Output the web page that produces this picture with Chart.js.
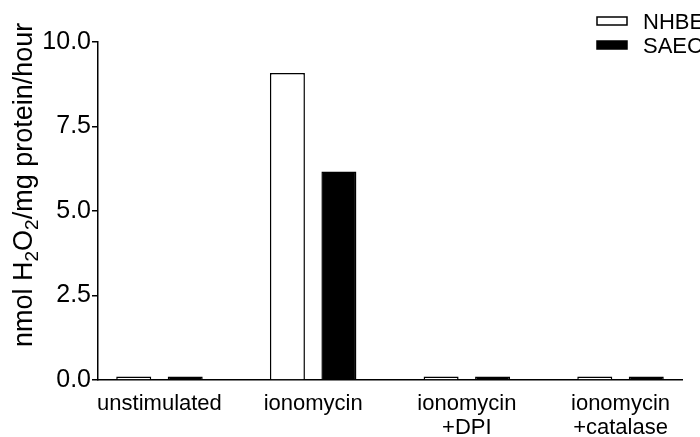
<!DOCTYPE html>
<html>
<head>
<meta charset="utf-8">
<script src="https://cdn.jsdelivr.net/npm/chart.js@4/dist/chart.umd.min.js"></script>
<style>
  body { margin: 0; background: #fff; }
  #wrap { width: 700px; height: 437px; position: relative; }
</style>
</head>
<body>
<div id="wrap"><canvas id="chartCanvas"></canvas></div>
<script>
// DATA
const categories = ['unstimulated', 'ionomycin', ['ionomycin', '+DPI'], ['ionomycin', '+catalase']];
const nhbeValues = [0.1, 9.08, 0.1, 0.1];
const saecValues = [0.1, 6.17, 0.1, 0.1];
const yTickValues = [0, 2.5, 5, 7.5, 10];
const seriesNames = ['NHBE', 'SAEC'];

const FONT = "'Liberation Sans', Arial, sans-serif";

// y title with real subscripts, and a stacked legend in the top right corner
const extras = {
  id: 'extras',
  afterDraw(chart) {
    const ctx = chart.ctx;
    ctx.save();
    ctx.fillStyle = '#000';
    ctx.strokeStyle = '#000';

    // legend
    chart.data.datasets.forEach((ds, i) => {
      const cy = 21 + i * 24;
      ctx.fillStyle = ds.backgroundColor;
      ctx.fillRect(597, cy - 4, 30, 8);
      ctx.lineWidth = 1.5;
      ctx.strokeRect(597, cy - 4, 30, 8);
      ctx.fillStyle = '#000';
      ctx.font = '22px ' + FONT;
      ctx.textBaseline = 'middle';
      ctx.fillText(ds.label, 643, cy + 2);
    });

    // y axis title
    const parts = [['nmol H', 0], ['2', 1], ['O', 0], ['2', 1], ['/mg protein/hour', 0]];
    ctx.translate(32, 347);
    ctx.rotate(-Math.PI / 2);
    ctx.textBaseline = 'alphabetic';
    let x = 0;
    parts.forEach(([t, sub]) => {
      ctx.font = (sub ? '19px ' : '27px ') + FONT;
      ctx.fillText(t, x, sub ? 6 : 0);
      x += ctx.measureText(t).width;
    });
    ctx.restore();
  }
};

const config = {
  type: 'bar',
  data: {
    datasets: [{
      label: seriesNames[0],
      data: nhbeValues.map((v, i) => ({ x: i, y: v })),
      backgroundColor: '#ffffff',
      borderColor: '#000000',
      borderWidth: 1.5
    }, {
      label: seriesNames[1],
      data: saecValues.map((v, i) => ({ x: i, y: v })),
      backgroundColor: '#000000',
      borderColor: '#000000',
      borderWidth: 1.5
    }]
  },
  options: {
    responsive: true,
    maintainAspectRatio: false,
    animation: false,
    categoryPercentage: 0.67,
    barPercentage: 0.68,
    layout: { padding: { top: 42, right: 18, left: 0, bottom: 0 } },
    plugins: {
      legend: { display: false },
      tooltip: { enabled: false }
    },
    scales: {
      x: {
        type: 'linear',
        min: -0.4,
        max: 3.4,
        offset: false,
        afterBuildTicks: (s) => { s.ticks = categories.map((c, i) => ({ value: i })); },
        afterFit: (s) => { s.height = 57; },
        grid: { display: true, drawOnChartArea: false, drawTicks: false, offset: false },
        border: { color: '#000', width: 1.5 },
        ticks: {
          color: '#000',
          padding: 12,
          autoSkip: false,
          maxRotation: 0,
          font: { family: FONT, size: 22, lineHeight: 1.1 },
          callback: (v) => categories[v]
        }
      },
      y: {
        min: 0,
        max: 10,
        afterBuildTicks: (s) => { s.ticks = yTickValues.map(v => ({ value: v })); },
        afterFit: (s) => { s.width = 98; },
        grid: { drawOnChartArea: false, drawTicks: true, tickLength: 6, color: '#000', lineWidth: 1.5 },
        border: { color: '#000', width: 1.5 },
        ticks: {
          color: '#000',
          padding: 1,
          font: { family: FONT, size: 25 },
          callback: (v) => v.toFixed(1)
        }
      }
    }
  },
  plugins: [extras]
};

new Chart(document.getElementById('chartCanvas'), config);
</script>
</body>
</html>
